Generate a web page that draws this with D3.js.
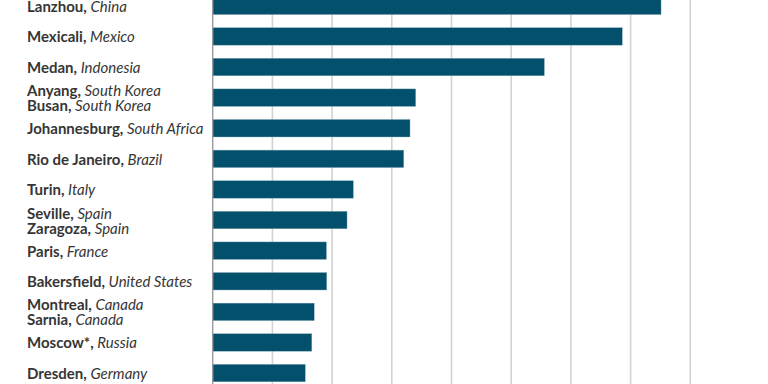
<!DOCTYPE html>
<html><head><meta charset="utf-8">
<script src="https://cdn.jsdelivr.net/npm/d3@7"></script>
<style>
html,body{margin:0;padding:0;background:#fff;}
svg{display:block;}
</style></head>
<body>
<svg id="chart" width="768" height="384"></svg>
<script>
// Each bar may carry one or two city labels (ties share a bar)
const cities = [
  ["Lanzhou"], ["Mexicali"], ["Medan"], ["Anyang", "Busan"], ["Johannesburg"],
  ["Rio de Janeiro"], ["Turin"], ["Seville", "Zaragoza"], ["Paris"],
  ["Bakersfield"], ["Montreal", "Sarnia"], ["Moscow*"], ["Dresden"]
];
const countries = [
  ["China"], ["Mexico"], ["Indonesia"], ["South Korea", "South Korea"], ["South Africa"],
  ["Brazil"], ["Italy"], ["Spain", "Spain"], ["France"],
  ["United States"], ["Canada", "Canada"], ["Russia"], ["Germany"]
];
const values = [150.2, 137.2, 111.1, 68.0, 66.1, 64.0, 47.1, 45.0, 38.1, 38.2, 34.0, 33.2, 31.0];
const gridTicks = [0, 20, 40, 60, 80, 100, 120, 140, 160];

const svg = d3.select("#chart");
const keys = cities.map((c, i) => i);

const x = d3.scaleLinear().domain([0, 160]).range([212.7, 690.3]);
const y = d3.scaleBand().domain(keys).range([-2.9, 381.8]).paddingInner(0.43).paddingOuter(0);

// gridlines
svg.append("g").selectAll("line").data(gridTicks.slice(1)).join("line")
  .attr("x1", d => x(d)).attr("x2", d => x(d))
  .attr("y1", 0).attr("y2", 384)
  .attr("stroke", "#d2d2d4").attr("stroke-width", 1.6);

// bars
svg.append("g").selectAll("rect").data(values).join("rect")
  .attr("x", x(0))
  .attr("y", (d, i) => y(i))
  .attr("width", d => x(d) - x(0))
  .attr("height", y.bandwidth())
  .attr("fill", "#02506c")
  .attr("stroke", "#7fa6b6").attr("stroke-width", 0.4);

// baseline
svg.append("line")
  .attr("x1", x(0)).attr("x2", x(0)).attr("y1", 0).attr("y2", 384)
  .attr("stroke", "#9a9a9c").attr("stroke-width", 1.4);

// labels
const fontFam = "Lato, 'Open Sans', sans-serif";
const lab = svg.append("g").attr("font-family", fontFam).attr("font-size", 15).attr("fill", "#363636");
keys.forEach(i => {
  const n = cities[i].length;
  const cy = y(i) + y.bandwidth() / 2;
  const lineH = 15;
  cities[i].forEach((c, j) => {
    const base = cy + 6 + (j - (n - 1) / 2) * lineH;
    const t = lab.append("text").attr("x", 27).attr("y", base);
    t.append("tspan").attr("font-weight", 700).text(c);
    t.append("tspan").attr("font-weight", 700).text(", ");
    t.append("tspan").attr("font-style", "italic").attr("font-weight", 400).text(countries[i][j]);
  });
});
</script>
</body></html>
